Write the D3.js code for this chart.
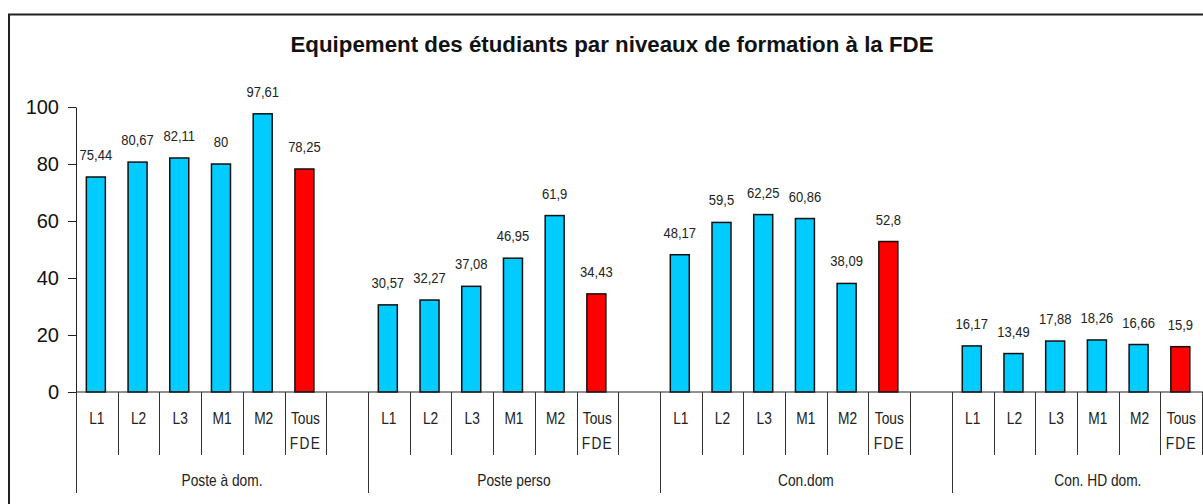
<!DOCTYPE html>
<html>
<head>
<meta charset="utf-8">
<script src="https://cdn.jsdelivr.net/npm/d3@7"></script>
<style>
  body { margin: 0; background: #fff; }
  text { font-family: 'Liberation Sans', Arial, sans-serif; }
</style>
</head>
<body>
<div id="chart"></div>
<script>
const title = 'Equipement des étudiants par niveaux de formation à la FDE';
const groups = ['Poste à dom.', 'Poste perso', 'Con.dom', 'Con. HD dom.'];
const levels = ['L1', 'L2', 'L3', 'M1', 'M2', 'Tous FDE'];
const posteDom = [75.44, 80.67, 82.11, 80, 97.61, 78.25];
const postePerso = [30.57, 32.27, 37.08, 46.95, 61.9, 34.43];
const conDom = [48.17, 59.5, 62.25, 60.86, 38.09, 52.8];
const conHdDom = [16.17, 13.49, 17.88, 18.26, 16.66, 15.9];
const yTicks = [0, 20, 40, 60, 80, 100];

const seriesByGroup = [posteDom, postePerso, conDom, conHdDom];

const width = 1203, height = 504;
const margin = { left: 76, top: 107, bottom: 392 };
const slotW = 41.71;

// each group = 6 bars + one empty slot
const slots = [];
groups.forEach((g, gi) => {
  levels.forEach(l => slots.push(gi + '|' + l));
  slots.push(gi + '|gap');
});

const data = [];
groups.forEach((g, gi) => {
  seriesByGroup[gi].forEach((v, li) => {
    data.push({ key: gi + '|' + levels[li], level: levels[li], value: v, total: li === levels.length - 1 });
  });
});

const svg = d3.select('#chart').append('svg')
  .attr('width', width)
  .attr('height', height);

// condensed text (no Arial Narrow here, so squeeze horizontally)
function narrowText(parent, cx, cy, str, size, sx) {
  return parent.append('g')
    .attr('transform', `translate(${cx},${cy}) scale(${sx},1)`)
    .append('text')
    .attr('text-anchor', 'middle')
    .attr('font-size', size)
    .attr('fill', '#222')
    .text(str);
}

// outer frame (cut by the window on the right and bottom)
svg.append('rect')
  .attr('x', 9).attr('y', 14.5)
  .attr('width', 1300).attr('height', 600)
  .attr('fill', 'none')
  .attr('stroke', '#222')
  .attr('stroke-width', 2);

svg.append('text')
  .attr('x', 612).attr('y', 52)
  .attr('text-anchor', 'middle')
  .attr('font-weight', 'bold')
  .attr('font-size', 22.3)
  .attr('fill', '#111')
  .text(title);

const x = d3.scaleBand()
  .domain(slots)
  .range([margin.left, margin.left + slots.length * slotW]);

const y = d3.scaleLinear()
  .domain([0, 100])
  .range([margin.bottom, margin.top]);

// y axis
const yAxis = svg.append('g')
  .attr('transform', `translate(${margin.left},0)`)
  .call(d3.axisLeft(y).tickValues(yTicks).tickSize(8).tickSizeOuter(0).tickPadding(9));
yAxis.select('.domain').attr('stroke', '#222');
yAxis.selectAll('.tick line').attr('stroke', '#222');
yAxis.selectAll('.tick text')
  .attr('font-family', 'Liberation Sans, Arial, sans-serif')
  .attr('font-size', 20)
  .attr('fill', '#111');

// bars
const barW = 19;
svg.selectAll('.bar')
  .data(data)
  .enter().append('rect')
  .attr('class', 'bar')
  .attr('x', d => x(d.key) + x.bandwidth() / 2 - barW / 2 - 1)
  .attr('y', d => y(d.value))
  .attr('width', barW)
  .attr('height', d => y(0) - y(d.value))
  .attr('fill', d => d.total ? '#ff0000' : '#00ccff')
  .attr('stroke', '#111')
  .attr('stroke-width', 1.5);

// value labels
data.forEach(d => {
  narrowText(svg, x(d.key) + x.bandwidth() / 2 - 1, y(d.value) - 17,
    String(d.value).replace('.', ','), 15.5, 0.84);
});

// baseline
svg.append('line')
  .attr('x1', margin.left).attr('x2', width)
  .attr('y1', y(0)).attr('y2', y(0))
  .attr('stroke', '#222');

// category ticks at slot boundaries
const axisG = svg.append('g');
slots.forEach(s => {
  const long = s.endsWith('|L1');
  axisG.append('line')
    .attr('x1', Math.round(x(s)) + 0.5).attr('x2', Math.round(x(s)) + 0.5)
    .attr('y1', y(0)).attr('y2', long ? 493 : 455)
    .attr('stroke', '#333');
});

// level labels
data.forEach(d => {
  const cx = x(d.key) + x.bandwidth() / 2;
  const parts = d.level === 'Tous FDE' ? ['Tous', 'FDE'] : [d.level];
  parts.forEach((p, pi) => {
    const t = narrowText(axisG, cx, 424 + pi * 25, p, 16, 0.86);
    if (p === 'FDE') t.attr('letter-spacing', 1.5);
  });
});

// group labels
groups.forEach((g, gi) => {
  const x0 = x(gi + '|L1');
  const x1 = x(gi + '|gap') + x.bandwidth();
  narrowText(axisG, (x0 + x1) / 2, 486, g, 16, 0.86);
});
</script>
</body>
</html>
